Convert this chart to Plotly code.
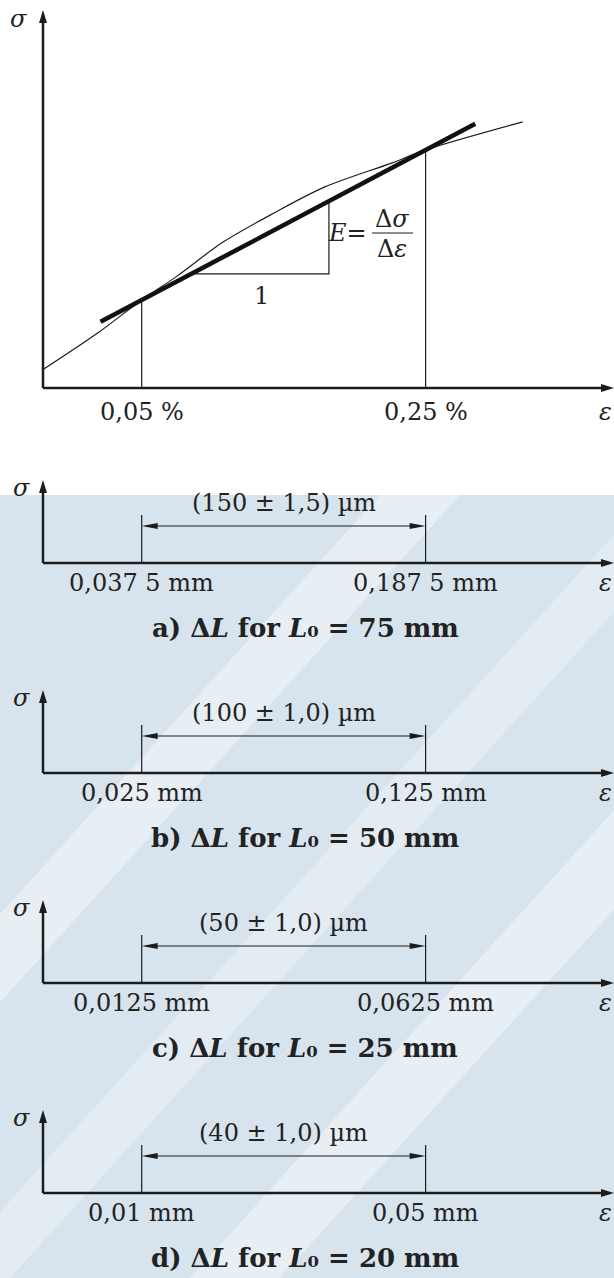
import plotly.graph_objects as go

# ---------------- data ----------------
strain_ticks_pct = [0.05, 0.25]
strain_tick_labels = ["0,05 %", "0,25 %"]

curve_strain_pct = [-0.019, 0.0192, 0.05, 0.0742, 0.1073, 0.1432, 0.1791, 0.226, 0.25, 0.3184]
curve_stress = [5.0, 14.6, 23.3, 29.4, 38.6, 46.3, 53.2, 59.5, 63.0, 70.4]

secant_strain_pct = [0.021, 0.285]
secant_stress = [17.5, 69.9]

slope_tri_strain_pct = [0.0867, 0.1819, 0.1819]
slope_tri_stress = [30.2, 30.2, 49.5]
slope_run_label = "1"

tick_stress = [23.3, 63.0]   # where the 0,05 % and 0,25 % verticals meet the curve

panel_letters = ["a", "b", "c", "d"]
gauge_lengths_mm = [75, 50, 25, 20]
dL_start_mm = [0.0375, 0.025, 0.0125, 0.01]
dL_end_mm = [0.1875, 0.125, 0.0625, 0.05]
dL_start_labels = ["0,037 5 mm", "0,025 mm", "0,0125 mm", "0,01 mm"]
dL_end_labels = ["0,187 5 mm", "0,125 mm", "0,0625 mm", "0,05 mm"]
span_labels = ["(150 ± 1,5) µm", "(100 ± 1,0) µm", "(50 ± 1,0) µm", "(40 ± 1,0) µm"]

# ---------------- layout constants (pixels) ----------------
W, H = 614, 1278
TICK_PX = (141.7, 425.6)
AXIS_X_PX = 43.0
TOP_AXIS_PY = 388.0
TOP_PX_PER_SIGMA = 3.78
TOP_SIGMA_MAX = 100.0
PANEL_AXIS_PY = [563, 773, 983, 1193]
INK = "#1c1c1c"
TXT = "#222222"
FONT = "DejaVu Serif"
FS = 24
FS_CAP = 26


def py2paper(py):
    return 1 - py / H


def x_range(v1, v2):
    s = (TICK_PX[1] - TICK_PX[0]) / (v2 - v1)
    r0 = v1 - TICK_PX[0] / s
    return [r0, r0 + W / s]


def px_to_x(px, rng):
    return rng[0] + px / W * (rng[1] - rng[0])


def head_path(tip_x, tip_y, dx, dy, kx, ky, L=13, hw=4):
    bx = tip_x - dx * L / kx
    by = tip_y - dy * L / ky
    nx, ny = -dy, dx
    p1 = (bx + nx * hw / kx, by + ny * hw / ky)
    p2 = (bx - nx * hw / kx, by - ny * hw / ky)
    return f"M {tip_x},{tip_y} L {p1[0]},{p1[1]} L {p2[0]},{p2[1]} Z"


def txt(x, y, text, xref="paper", size=FS, xanchor="center"):
    return dict(x=x, y=y, xref=xref, yref="paper", text=text, showarrow=False,
                xanchor=xanchor, yanchor="middle", font=dict(family=FONT, size=size, color=TXT))


fig = go.Figure()
shapes = []
annotations = []
layout_axes = {}

# ---------------- watermark background ----------------
BG = "#d8e4ed"
shapes.append(dict(type="rect", xref="paper", yref="paper", x0=0, x1=1,
                   y0=0, y1=py2paper(495), fillcolor=BG, line_width=0, layer="below"))
for (xb, xt, wdt, op) in [(-330, 380, 80, 0.38), (-60, 650, 70, 0.32), (190, 900, 90, 0.38)]:
    yb, yt = 1278, 495
    path = (f"M {xb/W},{py2paper(yb)} L {(xb+wdt)/W},{py2paper(yb)} "
            f"L {(xt+wdt)/W},{py2paper(yt)} L {xt/W},{py2paper(yt)} Z")
    shapes.append(dict(type="path", xref="paper", yref="paper", path=path,
                       fillcolor=f"rgba(255,255,255,{op})", line_width=0, layer="below"))

# ---------------- top panel ----------------
xr = x_range(strain_ticks_pct[0], strain_ticks_pct[1])
kx = W / (xr[1] - xr[0])
yr = [(TOP_AXIS_PY - 430) / TOP_PX_PER_SIGMA, TOP_AXIS_PY / TOP_PX_PER_SIGMA]
ky = TOP_PX_PER_SIGMA
x_org = px_to_x(AXIS_X_PX, xr)
x_end = xr[1]
layout_axes["xaxis"] = dict(domain=[0, 1], range=xr, visible=False, fixedrange=True)
layout_axes["yaxis"] = dict(domain=[py2paper(430), 1], range=yr, visible=False, fixedrange=True)

fig.add_trace(go.Scatter(x=[x_org, x_org], y=[0, TOP_SIGMA_MAX - 10 / ky], mode="lines",
                         line=dict(color=INK, width=2.5), xaxis="x", yaxis="y", hoverinfo="skip"))
fig.add_trace(go.Scatter(x=[x_org, x_end - 10 / kx], y=[0, 0], mode="lines",
                         line=dict(color=INK, width=2.5), xaxis="x", yaxis="y", hoverinfo="skip"))
shapes.append(dict(type="path", xref="x", yref="y", path=head_path(x_org, TOP_SIGMA_MAX, 0, 1, kx, ky),
                   fillcolor=INK, line_width=0))
shapes.append(dict(type="path", xref="x", yref="y", path=head_path(x_end, 0, 1, 0, kx, ky),
                   fillcolor=INK, line_width=0))

fig.add_trace(go.Scatter(x=curve_strain_pct, y=curve_stress, mode="lines",
                         line=dict(color=INK, width=1.2, shape="spline", smoothing=0.9),
                         xaxis="x", yaxis="y", hoverinfo="skip"))
for s, st in zip(strain_ticks_pct, tick_stress):
    fig.add_trace(go.Scatter(x=[s, s], y=[0, st], mode="lines", line=dict(color=INK, width=1.2),
                             xaxis="x", yaxis="y", hoverinfo="skip"))
fig.add_trace(go.Scatter(x=slope_tri_strain_pct, y=slope_tri_stress, mode="lines",
                         line=dict(color=INK, width=1.2), xaxis="x", yaxis="y", hoverinfo="skip"))
fig.add_trace(go.Scatter(x=secant_strain_pct, y=secant_stress, mode="lines",
                         line=dict(color="#111111", width=4.5), xaxis="x", yaxis="y", hoverinfo="skip"))

for s, lab in zip(strain_ticks_pct, strain_tick_labels):
    annotations.append(txt(s, py2paper(TOP_AXIS_PY + 24), lab, xref="x"))
annotations.append(txt((slope_tri_strain_pct[0] + slope_tri_strain_pct[1]) / 2, py2paper(296),
                       slope_run_label, xref="x"))
annotations.append(txt(18 / W, py2paper(19), "<i>σ</i>"))
annotations.append(txt(1.0, py2paper(TOP_AXIS_PY + 24), "<i>ε</i>", xanchor="right"))
# E = Δσ/Δε
annotations.append(txt(369 / W, py2paper(233), "<i>E</i>=", xanchor="right"))
shapes.append(dict(type="line", xref="paper", yref="paper", x0=372 / W, x1=413 / W,
                   y0=py2paper(233), y1=py2paper(233), line=dict(color=INK, width=1.2)))
annotations.append(txt(392.5 / W, py2paper(219), "Δ<i>σ</i>"))
annotations.append(txt(392.5 / W, py2paper(249), "Δ<i>ε</i>"))

# ---------------- bottom panels ----------------
P_SIG_TOP, P_TICK_TOP, P_DIM_Y = 83, 48, 37
for i, (let, L0, a, b, la, lb, span, apy) in enumerate(zip(
        panel_letters, gauge_lengths_mm, dL_start_mm, dL_end_mm,
        dL_start_labels, dL_end_labels, span_labels, PANEL_AXIS_PY)):
    n = i + 2
    xa, ya = f"x{n}", f"y{n}"
    pxr = x_range(a, b)
    pkx = W / (pxr[1] - pxr[0])
    pky = 1.0
    layout_axes[f"xaxis{n}"] = dict(domain=[0, 1], range=pxr, visible=False, fixedrange=True)
    layout_axes[f"yaxis{n}"] = dict(domain=[py2paper(apy + 80), py2paper(apy - 120)], range=[-80, 120],
                                    visible=False, fixedrange=True)
    porg = px_to_x(AXIS_X_PX, pxr)
    pend = pxr[1]
    fig.add_trace(go.Scatter(x=[porg, porg], y=[0, P_SIG_TOP - 10], mode="lines",
                             line=dict(color=INK, width=2.5), xaxis=xa, yaxis=ya, hoverinfo="skip"))
    fig.add_trace(go.Scatter(x=[porg, pend - 10 / pkx], y=[0, 0], mode="lines",
                             line=dict(color=INK, width=2.5), xaxis=xa, yaxis=ya, hoverinfo="skip"))
    shapes.append(dict(type="path", xref=xa, yref=ya, path=head_path(porg, P_SIG_TOP, 0, 1, pkx, pky),
                       fillcolor=INK, line_width=0))
    shapes.append(dict(type="path", xref=xa, yref=ya, path=head_path(pend, 0, 1, 0, pkx, pky),
                       fillcolor=INK, line_width=0))
    for v in (a, b):
        fig.add_trace(go.Scatter(x=[v, v], y=[0, P_TICK_TOP], mode="lines",
                                 line=dict(color=INK, width=1.2), xaxis=xa, yaxis=ya, hoverinfo="skip"))
    fig.add_trace(go.Scatter(x=[a + 12 / pkx, b - 12 / pkx], y=[P_DIM_Y, P_DIM_Y], mode="lines",
                             line=dict(color=INK, width=1.2), xaxis=xa, yaxis=ya, hoverinfo="skip"))
    shapes.append(dict(type="path", xref=xa, yref=ya,
                       path=head_path(b, P_DIM_Y, 1, 0, pkx, pky, L=16, hw=3),
                       fillcolor=INK, line_width=0))
    shapes.append(dict(type="path", xref=xa, yref=ya,
                       path=head_path(a, P_DIM_Y, -1, 0, pkx, pky, L=16, hw=3),
                       fillcolor=INK, line_width=0))
    for v, lab in ((a, la), (b, lb)):
        annotations.append(txt(v, py2paper(apy + 20), lab, xref=xa))
    annotations.append(txt((a + b) / 2, py2paper(apy - 60), span, xref=xa))
    annotations.append(txt(21 / W, py2paper(apy - 75), "<i>σ</i>"))
    annotations.append(txt(1.0, py2paper(apy + 20), "<i>ε</i>", xanchor="right"))
    annotations.append(txt(305 / W, py2paper(apy + 65),
                           f"<b>{let}) Δ<i>L</i> for <i>L</i>₀ = {L0} mm</b>", size=FS_CAP))

fig.update_layout(width=W, height=H, margin=dict(l=0, r=0, t=0, b=0),
                  paper_bgcolor="white", plot_bgcolor="rgba(0,0,0,0)", showlegend=False,
                  shapes=shapes, annotations=annotations, **layout_axes)
fig.write_html("out.html", config={"displayModeBar": False},
               post_script="document.body.style.margin='0';document.body.style.overflow='hidden';")
